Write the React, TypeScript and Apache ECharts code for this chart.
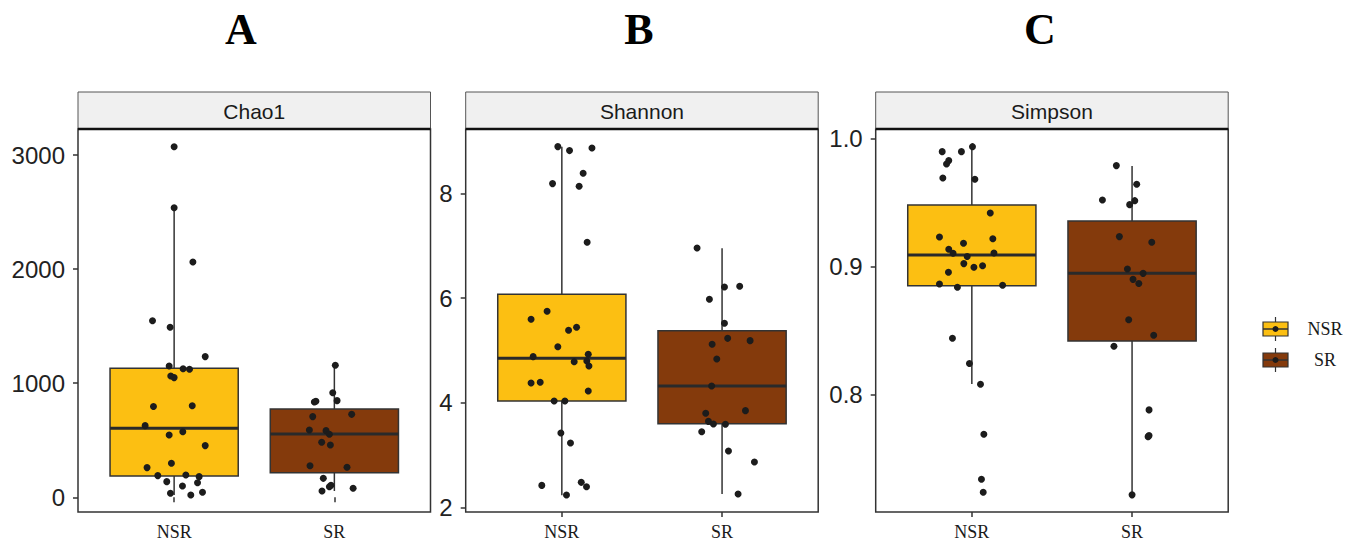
import React, { useEffect, useRef } from "react";
import * as echarts from "echarts";

// ---------- data ----------
const CATEGORIES = ["NSR", "SR"];
const GROUP_COLORS = ["#FCBF12", "#843A0C"];
const PANEL_TITLES = ["A", "B", "C"];
const STRIP_LABELS = ["Chao1", "Shannon", "Simpson"];

// box stats: [min, q1, median, q3, max] (whisker ends as drawn)
const chaoBoxNSR = [20, 187, 605, 1130, 2538];
const chaoBoxSR = [55, 216, 555, 774, 1157];
const shannonBoxNSR = [2.24, 4.036, 4.851, 6.072, 8.89];
const shannonBoxSR = [2.26, 3.603, 4.323, 5.379, 6.95];
const simpsonBoxNSR = [0.808, 0.8849, 0.9089, 0.9479, 0.9935];
const simpsonBoxSR = [0.7214, 0.8417, 0.8945, 0.9354, 0.9784];

// points (values) and their horizontal jitter offsets
const chaoNSR = [3073, 2538, 2062, 1548, 1490, 1233, 1151, 1127, 1122, 1063, 1049, 795, 803, 628, 575, 546, 453, 298, 260, 190, 196, 181, 137, 128, 99, 35, 44, 20];
const chaoNSRJitter = [0, 0, 0.117, -0.135, -0.025, 0.194, -0.031, 0.056, 0.096, -0.021, 0, -0.129, 0.113, -0.181, 0.054, -0.031, 0.194, -0.017, -0.169, -0.102, 0.073, 0.156, -0.046, 0.146, 0.052, -0.023, 0.177, 0.104];
const chaoSR = [1157, 917, 847, 835, 841, 727, 707, 590, 584, 552, 482, 459, 277, 263, 166, 105, 93, 79, 55];
const chaoSRJitter = [0.006, -0.01, 0.017, -0.125, -0.115, 0.108, -0.135, -0.156, -0.052, -0.031, -0.079, -0.025, -0.152, 0.079, -0.069, -0.021, -0.031, 0.117, -0.077];

const shannonNSR = [8.891, 8.815, 8.866, 8.382, 8.185, 8.134, 7.065, 5.748, 5.595, 5.442, 5.385, 5.073, 4.883, 4.927, 4.787, 4.8, 4.704, 4.38, 4.393, 4.227, 4.036, 4.036, 3.425, 3.234, 2.426, 2.484, 2.401, 2.242];
const shannonNSRJitter = [-0.025, 0.048, 0.188, 0.133, -0.058, 0.108, 0.158, -0.092, -0.192, 0.092, 0.042, -0.025, -0.179, 0.165, 0.077, 0.156, 0.169, -0.192, -0.135, 0.165, -0.048, 0.019, -0.006, 0.054, -0.125, 0.121, 0.154, 0.029];
const shannonSR = [6.957, 6.212, 6.225, 5.977, 5.519, 5.232, 5.188, 5.118, 4.838, 4.322, 3.801, 3.852, 3.648, 3.597, 3.591, 3.451, 3.082, 2.872, 2.261];
const shannonSRJitter = [-0.156, 0.015, 0.11, -0.079, 0.015, 0.035, 0.175, -0.062, -0.033, -0.065, -0.102, 0.146, -0.085, -0.054, 0.021, -0.127, 0.04, 0.202, 0.1];

const simpsonNSR = [0.9935, 0.9896, 0.9896, 0.9826, 0.98, 0.969, 0.968, 0.9417, 0.9229, 0.9216, 0.918, 0.9133, 0.9102, 0.9104, 0.9076, 0.9021, 0.9005, 0.8992, 0.8953, 0.8862, 0.8852, 0.8836, 0.8438, 0.824, 0.8078, 0.7688, 0.7336, 0.7234];
const simpsonNSRJitter = [0.004, -0.185, -0.065, -0.144, -0.158, -0.181, 0.019, 0.115, -0.202, 0.131, -0.052, -0.144, -0.117, 0.138, -0.029, -0.05, 0.067, 0.013, -0.146, -0.202, 0.192, -0.09, -0.121, -0.015, 0.054, 0.075, 0.06, 0.071];
const simpsonSR = [0.9787, 0.9641, 0.9518, 0.9513, 0.9482, 0.9232, 0.9188, 0.8979, 0.8945, 0.8898, 0.8865, 0.8583, 0.8461, 0.8375, 0.7878, 0.7677, 0.7669, 0.7214];
const simpsonSRJitter = [-0.098, 0.029, -0.185, 0.017, -0.015, -0.079, 0.123, -0.029, 0.069, 0.006, 0.042, -0.021, 0.135, -0.113, 0.106, 0.106, 0.1, 0];

// y axis ranges and tick labels
const chaoRange = [-129, 3228];
const chaoTicks = [0, 1000, 2000, 3000];
const shannonRange = [1.918, 9.227];
const shannonTicks = [2, 4, 6, 8];
const simpsonRange = [0.708, 1.0073];
const simpsonTicks = [0.8, 0.9, 1.0];

// ---------- layout ----------
const PANEL_LEFTS = [78, 465.7, 875.7];
const PANEL_WIDTH = 352.5;
const PLOT_TOP = 129;
const PLOT_BOTTOM = 512;
const STRIP_TOP = 92;
const TITLE_X = [241, 639, 1040];

const SANS = "'Liberation Sans', Arial, sans-serif";
const SERIF = "'Liberation Serif', 'Times New Roman', serif";

function buildOption() {
  const panels = [
    { boxes: [chaoBoxNSR, chaoBoxSR], pts: [[chaoNSR, chaoNSRJitter], [chaoSR, chaoSRJitter]], range: chaoRange, ticks: chaoTicks, dec: 0 },
    { boxes: [shannonBoxNSR, shannonBoxSR], pts: [[shannonNSR, shannonNSRJitter], [shannonSR, shannonSRJitter]], range: shannonRange, ticks: shannonTicks, dec: 0 },
    { boxes: [simpsonBoxNSR, simpsonBoxSR], pts: [[simpsonNSR, simpsonNSRJitter], [simpsonSR, simpsonSRJitter]], range: simpsonRange, ticks: simpsonTicks, dec: 1 },
  ];

  const grids: any[] = [];
  const xAxes: any[] = [];
  const yAxes: any[] = [];
  const series: any[] = [];
  const graphics: any[] = [];

  panels.forEach((p, i) => {
    grids.push({
      left: PANEL_LEFTS[i],
      top: PLOT_TOP,
      width: PANEL_WIDTH,
      height: PLOT_BOTTOM - PLOT_TOP,
      show: true,
      borderColor: "#333",
      borderWidth: 1.5,
      backgroundColor: "#fff",
    });
    xAxes.push({
      type: "value",
      gridIndex: i,
      min: 0.4,
      max: 2.6,
      axisLine: { show: false },
      splitLine: { show: false },
      axisTick: { show: true, customValues: [1, 2], length: 5, lineStyle: { color: "#333", width: 1.5 } },
      axisLabel: {
        customValues: [1, 2],
        formatter: (v: number) => CATEGORIES[Math.round(v) - 1] || "",
        fontFamily: SERIF,
        fontSize: 18,
        color: "#1a1a1a",
        margin: 11,
      },
    });
    yAxes.push({
      type: "value",
      gridIndex: i,
      min: p.range[0],
      max: p.range[1],
      axisLine: { show: false },
      splitLine: { show: false },
      axisTick: { show: true, customValues: p.ticks, length: 5, lineStyle: { color: "#333", width: 1.5 } },
      axisLabel: {
        customValues: p.ticks,
        formatter: (v: number) => v.toFixed(p.dec),
        fontFamily: SANS,
        fontSize: 24,
        color: "#222",
        margin: 13,
      },
    });

    const boxData = p.boxes.map((b, g) => [g + 1, b[0], b[1], b[2], b[3], b[4], g]);
    series.push({
      type: "custom",
      xAxisIndex: i,
      yAxisIndex: i,
      data: boxData,
      encode: { x: 0, y: [1, 2, 3, 4, 5] },
      z: 2,
      renderItem: (params: any, api: any) => {
        const x = api.value(0);
        const g = api.value(6);
        const pMin = api.coord([x, api.value(1)]);
        const pQ1 = api.coord([x, api.value(2)]);
        const pMed = api.coord([x, api.value(3)]);
        const pQ3 = api.coord([x, api.value(4)]);
        const pMax = api.coord([x, api.value(5)]);
        const left = api.coord([x - 0.4, api.value(3)])[0];
        const right = api.coord([x + 0.4, api.value(3)])[0];
        const stroke = { stroke: "#333", lineWidth: 1.5 };
        return {
          type: "group",
          children: [
            { type: "line", shape: { x1: pMax[0], y1: pMax[1], x2: pQ3[0], y2: pQ3[1] }, style: stroke },
            { type: "line", shape: { x1: pQ1[0], y1: pQ1[1], x2: pMin[0], y2: pMin[1] }, style: stroke },
            {
              type: "rect",
              shape: { x: left, y: pQ3[1], width: right - left, height: pQ1[1] - pQ3[1] },
              style: { fill: GROUP_COLORS[g], stroke: "#333", lineWidth: 1.5 },
            },
            { type: "line", shape: { x1: left, y1: pMed[1], x2: right, y2: pMed[1] }, style: { stroke: "#2a2a2a", lineWidth: 3 } },
          ],
        };
      },
    });

    p.pts.forEach(([vals, jit], g) => {
      series.push({
        type: "scatter",
        xAxisIndex: i,
        yAxisIndex: i,
        z: 5,
        symbol: "circle",
        symbolSize: 7,
        itemStyle: { color: "#1c1c1c", opacity: 1 },
        data: (vals as number[]).map((v, k) => [g + 1 + (jit as number[])[k], v]),
      });
    });

    // strip
    graphics.push({
      type: "rect",
      shape: { x: PANEL_LEFTS[i], y: STRIP_TOP, width: PANEL_WIDTH, height: PLOT_TOP - STRIP_TOP },
      style: { fill: "#F0F0F0", stroke: "#555", lineWidth: 1 },
      z: 10,
    });
    graphics.push({
      type: "line",
      shape: { x1: PANEL_LEFTS[i], y1: PLOT_TOP, x2: PANEL_LEFTS[i] + PANEL_WIDTH, y2: PLOT_TOP },
      style: { stroke: "#111", lineWidth: 2.5 },
      z: 11,
    });
    graphics.push({
      type: "text",
      x: PANEL_LEFTS[i] + PANEL_WIDTH / 2,
      y: (STRIP_TOP + PLOT_TOP) / 2 + 1,
      style: { text: STRIP_LABELS[i], fontFamily: SANS, fontSize: 21, fill: "#1a1a1a", align: "center", verticalAlign: "middle" },
      z: 12,
    });
    // panel title
    graphics.push({
      type: "text",
      x: TITLE_X[i],
      y: 29,
      style: { text: PANEL_TITLES[i], fontFamily: SERIF, fontWeight: "bold", fontSize: 44, fill: "#000", align: "center", verticalAlign: "middle" },
      z: 12,
    });
  });

  // legend
  const legendY = [329, 360];
  CATEGORIES.forEach((c, g) => {
    const cy = legendY[g];
    const cx = 1275.5;
    graphics.push({ type: "line", shape: { x1: cx, y1: cy - 12, x2: cx, y2: cy + 12 }, style: { stroke: "#333", lineWidth: 1.2 }, z: 10 });
    graphics.push({ type: "rect", shape: { x: cx - 12.5, y: cy - 7, width: 25, height: 14 }, style: { fill: GROUP_COLORS[g], stroke: "#333", lineWidth: 1.2 }, z: 11 });
    graphics.push({ type: "line", shape: { x1: cx - 12.5, y1: cy, x2: cx + 12.5, y2: cy }, style: { stroke: "#333", lineWidth: 1.5 }, z: 12 });
    graphics.push({ type: "circle", shape: { cx, cy, r: 3 }, style: { fill: "#1c1c1c" }, z: 13 });
    graphics.push({
      type: "text",
      x: 1325,
      y: cy,
      style: { text: c, fontFamily: SERIF, fontSize: 18, fill: "#1a1a1a", align: "center", verticalAlign: "middle" },
      z: 13,
    });
  });

  return {
    animation: false,
    backgroundColor: "#fff",
    grid: grids,
    xAxis: xAxes,
    yAxis: yAxes,
    series,
    graphic: graphics,
  };
}

export default function App() {
  const ref = useRef<HTMLDivElement>(null);
  useEffect(() => {
    if (!ref.current) return;
    const chart = echarts.init(ref.current, null, { renderer: "svg" });
    chart.setOption(buildOption() as any);
    return () => chart.dispose();
  }, []);
  return <div ref={ref} style={{ position: "fixed", left: 0, top: 0, width: 1355, height: 544, background: "#fff" }} />;
}
